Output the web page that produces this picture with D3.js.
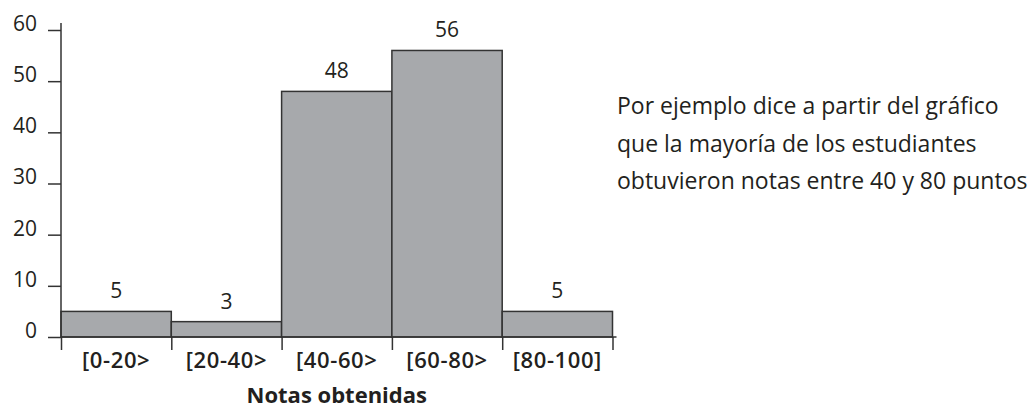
<!DOCTYPE html>
<html lang="es">
  <head>
    <meta charset="UTF-8" />
    <title>Notas obtenidas</title>
    <style>
      body { margin: 0; background: #fff; overflow: hidden; }
      svg { font-family: "Open Sans", sans-serif; display: block; }
    </style>
  </head>
  <body>
    <div id="chart"></div>
    <script src="https://d3js.org/d3.v7.min.js"></script>
    <script>
      // bins of the histogram and counts per bin
      const binEdges = [0, 20, 40, 60, 80, 100];
      const binLabels = ["[0-20>", "[20-40>", "[40-60>", "[60-80>", "[80-100]"];
      const counts = [5, 3, 48, 56, 5];
      const yTicks = [0, 10, 20, 30, 40, 50, 60];
      const noteLines = [
        "Por ejemplo dice a partir del gráfico",
        "que la mayoría de los estudiantes",
        "obtuvieron notas entre 40 y 80 puntos"
      ];

      const width = 1030, height = 412;
      const ink = "#231f20";

      const svg = d3.select("#chart").append("svg")
        .attr("width", width)
        .attr("height", height);

      const x = d3.scaleLinear().domain([0, 100]).range([61, 612.5]);
      const y = d3.scaleLinear().domain([0, 60]).range([337, 30]);

      const bins = counts.map((c, i) => ({
        x0: binEdges[i], x1: binEdges[i + 1], count: c, label: binLabels[i]
      }));

      // bars
      svg.append("g").selectAll("rect")
        .data(bins)
        .join("rect")
        .attr("x", d => x(d.x0))
        .attr("y", d => y(d.count))
        .attr("width", d => x(d.x1) - x(d.x0))
        .attr("height", d => y(0) - y(d.count))
        .attr("fill", "#a7a9ac")
        .attr("stroke", "#333")
        .attr("stroke-width", 1.5);

      // value labels
      svg.append("g").selectAll("text")
        .data(bins)
        .join("text")
        .attr("x", d => x((d.x0 + d.x1) / 2))
        .attr("y", d => y(d.count) - 13)
        .attr("text-anchor", "middle")
        .attr("font-size", 21)
        .attr("fill", ink)
        .text(d => d.count);

      // y axis
      const yAxis = svg.append("g")
        .attr("transform", `translate(${x(0)},0)`)
        .call(d3.axisLeft(y).tickValues(yTicks).tickSize(13).tickSizeOuter(0));
      yAxis.select(".domain").attr("d", `M0,23V${y(0)}`);
      yAxis.selectAll("line, .domain").attr("stroke", "#333").attr("stroke-width", 1.5);
      yAxis.selectAll("text")
        .attr("x", -24)
        .attr("dy", "0.02em")
        .attr("font-size", 21)
        .attr("font-family", "Open Sans, sans-serif")
        .attr("fill", ink);

      // x axis
      const xAxis = svg.append("g")
        .attr("transform", `translate(0,${y(0)})`)
        .call(d3.axisBottom(x).tickValues(binEdges).tickSize(13).tickSizeOuter(0).tickFormat(""));
      xAxis.select(".domain").attr("d", `M${x(0)},0H${x(100) + 4}`);
      xAxis.selectAll("line, .domain").attr("stroke", "#333").attr("stroke-width", 1.5);

      // bin labels
      svg.append("g").selectAll("text")
        .data(bins)
        .join("text")
        .attr("x", d => x((d.x0 + d.x1) / 2))
        .attr("y", y(0) + 31)
        .attr("text-anchor", "middle")
        .attr("font-size", 22)
        .attr("font-weight", 600)
        .attr("letter-spacing", 0.6)
        .attr("fill", ink)
        .text(d => d.label);

      svg.append("text")
        .attr("x", (x(0) + x(100)) / 2)
        .attr("y", 403)
        .attr("text-anchor", "middle")
        .attr("font-size", 22)
        .attr("font-weight", 700)
        .attr("fill", ink)
        .text("Notas obtenidas");

      // side note
      svg.append("g").selectAll("text")
        .data(noteLines)
        .join("text")
        .attr("x", 617)
        .attr("y", (d, i) => 114 + i * 37.5)
        .attr("font-size", 23)
        .attr("fill", ink)
        .text(d => d);
    </script>
  </body>
</html>
